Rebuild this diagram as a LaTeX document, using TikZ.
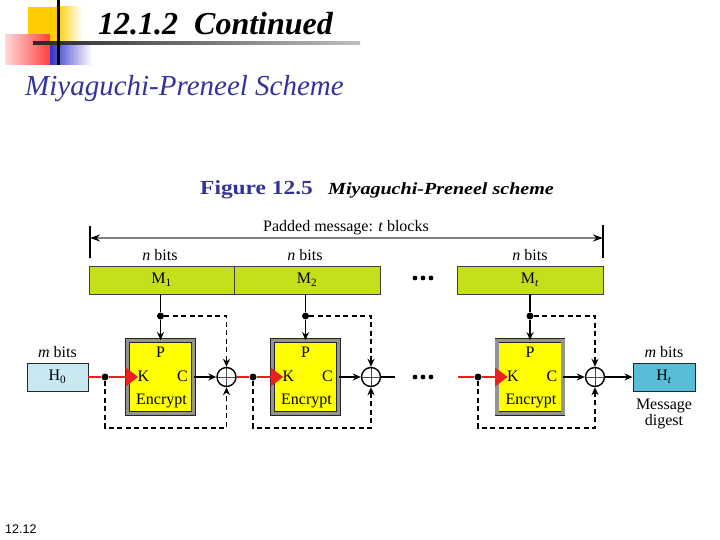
\documentclass[tikz,border=0pt]{standalone}
\usepackage{fontspec}
\setmainfont{Liberation Serif}
\setsansfont{Liberation Sans}
\usetikzlibrary{arrows.meta,calc}
\definecolor{navy}{RGB}{51,51,153}
\definecolor{barg}{RGB}{197,224,26}
\definecolor{ency}{RGB}{255,255,0}
\definecolor{hzero}{RGB}{200,232,242}
\definecolor{htc}{RGB}{88,190,215}
\definecolor{keyred}{RGB}{232,32,32}
\definecolor{hdyel}{RGB}{255,204,0}
\definecolor{hdblue}{RGB}{50,50,200}
\begin{document}
\begin{tikzpicture}[x=1pt,y=-1pt,
  dfont/.style={font=\fontsize{16}{16}\selectfont},
  lbl/.style={dfont, inner sep=0pt, anchor=base},
  msg/.style={draw=black!75, line width=0.8pt, fill=barg, minimum height=28pt, inner sep=0pt, dfont},
  encbox/.style={draw=black!85, double=gray!85, double distance=3.5pt, line width=0.7pt, fill=ency, minimum width=66pt, minimum height=73pt, inner sep=0pt},
  hbox/.style={draw=black!85, line width=0.9pt, minimum height=28pt, inner sep=0pt, dfont},
  xorn/.style={draw, circle, line width=1.4pt, minimum size=19pt, inner sep=0pt,
    path picture={\draw[line width=0.9pt, black!70] (path picture bounding box.north) -- (path picture bounding box.south) (path picture bounding box.west) -- (path picture bounding box.east);}},
  dotn/.style={circle, fill=black, inner sep=0pt, minimum size=7pt},
  arr/.style={-{Stealth[length=8pt,width=7pt]}},
  conn/.style={line width=1.5pt, black},
  dconn/.style={line width=1.4pt, black, dash pattern=on 5pt off 3.5pt},
  keyl/.style={line width=1.5pt, keyred},
]
\useasboundingbox (0,0) rectangle (720,540);
% header decoration
\fill[hdyel] (28,7) rectangle (56,44);
\shade[left color=hdyel, right color=white] (56,7) rectangle (82,44);
\shade[left color=red!15, right color=red!75] (5,35) rectangle (50,65);
\shade[left color=hdblue, right color=white] (50,43) rectangle (92,65);
\shade[left color=black!85, right color=black!25] (33,41.2) rectangle (360,44.2);
\fill[black] (57,0) rectangle (59.5,65);
% titles
\node[anchor=base west, inner sep=0pt, font=\fontsize{32}{32}\selectfont\bfseries\itshape] (title) at (98,35) {12.1.2\ \ Continued};
\node[anchor=base west, inner sep=0pt, text=navy, font=\fontsize{29}{29}\selectfont\itshape] (sub) at (25,96) {Miyaguchi-Preneel Scheme};
\node[anchor=base west, inner sep=0pt, text=navy, font=\fontsize{20}{20}\selectfont\bfseries] (fig) at (200,195) {\scalebox{1.17}[1]{Figure 12.5}};
\node[anchor=base west, inner sep=0pt, font=\fontsize{17}{17}\selectfont\bfseries\itshape] (cap) at (328,195) {\scalebox{1.18}[1]{Miyaguchi-Preneel scheme}};
\node[anchor=base west, inner sep=0pt, font=\fontsize{12.5}{12.5}\selectfont\sffamily] (pg) at (5,533) {12.12};
% top span arrow
\coordinate (tl) at (90,238);
\coordinate (tr) at (603,238);
\draw[line width=1.5pt] (90,226) -- (90,258);
\draw[line width=1.5pt] (603,225) -- (603,258);
\draw[line width=1.3pt, gray, {Stealth[black,length=10pt,width=7pt]}-{Stealth[black,length=10pt,width=7pt]}] (tl) -- (tr);
\node[lbl] (pad) at (346,232) {Padded message: \textit{t} blocks};
\node[lbl] (nb1) at (160,260) {\textit{n} bits};
\node[lbl] (nb2) at (305,260) {\textit{n} bits};
\node[lbl] (nb3) at (530,260) {\textit{n} bits};
% message blocks
\node[msg, minimum width=145pt] (m1) at (161.5,280) {M\textsubscript{1}};
\node[msg, minimum width=146pt] (m2) at (307,280) {M\textsubscript{2}};
\node[msg, minimum width=146pt] (mt) at (530,280) {M\textsubscript{\textit{t}}};
\node[inner sep=0pt] (dots1) at (423,278) {};
\foreach \dx in {-8,0,8} \fill ($(dots1)+(\dx,0)$) circle (2.4pt);
\node[inner sep=0pt] (dots2) at (423,377) {};
\foreach \dx in {-8,0,8} \fill ($(dots2)+(\dx,0)$) circle (2.4pt);
% H boxes
\node[hbox, fill=hzero, minimum width=61pt] (h0) at (57.5,377) {H\textsubscript{0}};
\node[lbl] (mb1) at (57.5,357) {\textit{m} bits};
\node[hbox, fill=htc, minimum width=62pt] (ht) at (664,377) {H\textsubscript{\textit{t}}};
\node[lbl] (mb2) at (664,357) {\textit{m} bits};
\node[lbl] (md1) at (664,409) {Message};
\node[lbl] (md2) at (664,425) {digest};
% stages
\foreach \i/\cx/\xx/\lx in {1/160.5/226.5/105, 2/305.5/371/253, 3/530/595/478} {
  \node[encbox] (e\i) at (\cx,377) {};
  \node[lbl] at ($(e\i)+(0,-20)$) {P};
  \node[lbl] at ($(e\i)+(-17,4)$) {K};
  \node[lbl] at ($(e\i)+(22,4)$) {C};
  \node[lbl] at ($(e\i)+(1,27)$) {Encrypt};
  \node[xorn] (x\i) at (\xx,377) {};
  \node[dotn] (dt\i) at (\cx,316) {};
  \node[dotn] (db\i) at (\lx,377) {};
  \coordinate (bl\i) at (\lx,428);
  \coordinate (br\i) at (\xx,428);
}
% key lines (red)
\draw[keyl] (h0.east) -- (db1) -- (e1.west);
\draw[keyl] (x1.east) -- (db2) -- (e2.west);
\coordinate (c3) at (395,377);
\coordinate (c4) at (458,377);
\draw[conn] (x2.east) -- (c3);
\draw[keyl] (c4) -- (db3) -- (e3.west);
% red triangles
\foreach \i in {1,2,3}
  \fill[keyred] ($(e\i.west)+(-1.5,-9.5)$) -- ($(e\i.west)+(-1.5,9.5)$) -- ($(e\i.west)+(11,0)$) -- cycle;
% message inputs
\draw[conn] (m1.south -| dt1) -- (dt1);
\draw[conn, arr] (dt1) -- (e1.north);
\draw[conn] (m2.south -| dt2) -- (dt2);
\draw[conn, arr] (dt2) -- (e2.north);
\draw[conn] (mt.south -| dt3) -- (dt3);
\draw[conn, arr] (dt3) -- (e3.north);
% feed-forward dashed
\foreach \i in {1,2,3} {
  \draw[dconn, arr] (dt\i) -| (x\i.north);
  \draw[dconn, arr] (db\i) -- (bl\i) -- (br\i) -- (x\i.south);
  \draw[conn, arr] (e\i.east) -- (x\i.west);
}
\draw[conn, arr] (x3.east) -- (ht.west);
\end{tikzpicture}
\end{document}
